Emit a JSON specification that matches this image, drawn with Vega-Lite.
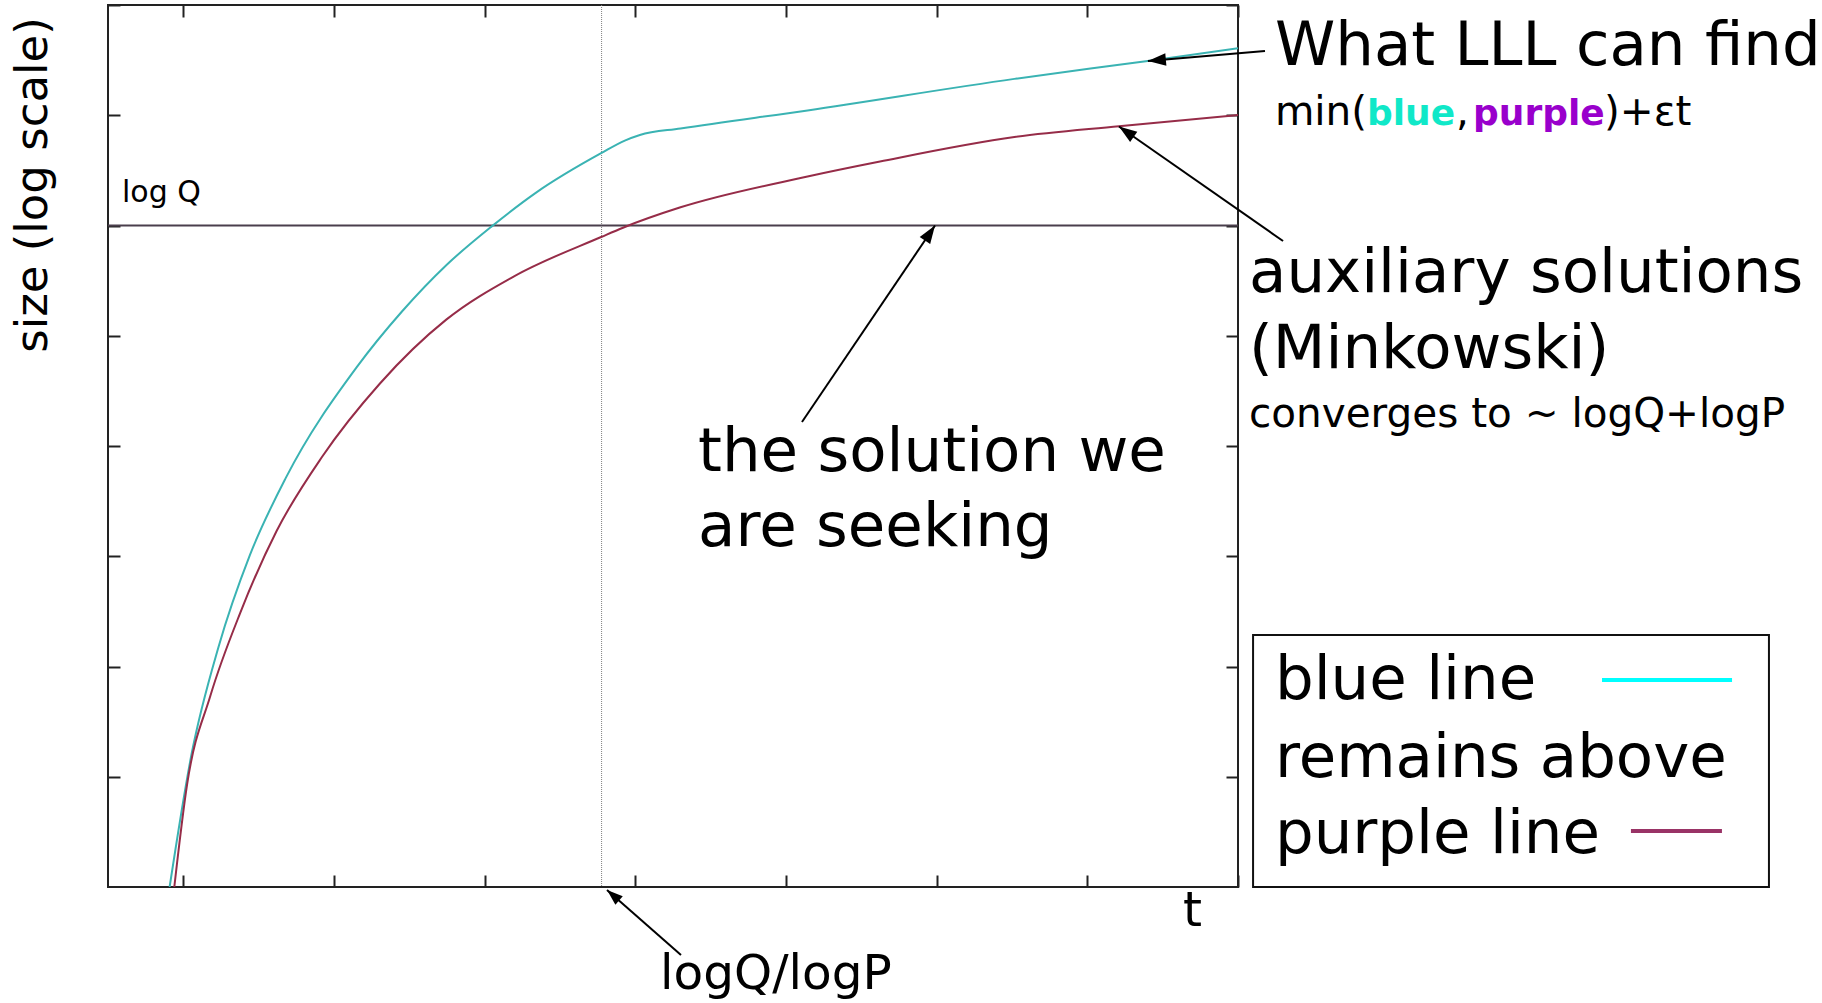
{
  "$schema": "https://vega.github.io/schema/vega-lite/v6.json",
  "width": 1130,
  "height": 882,
  "autosize": {"type": "none"},
  "padding": {"left": 108, "top": 5, "right": 584, "bottom": 116},
  "background": "white",
  "config": {
    "view": {"stroke": "#222222", "strokeWidth": 2},
    "text": {"font": "DejaVu Sans"},
    "axis": {
      "labels": false,
      "domain": false,
      "grid": false,
      "title": null,
      "ticks": true,
      "tickSize": -12,
      "tickWidth": 2,
      "tickColor": "#222222"
    }
  },
  "datasets": {
    "curves": [
      {"series": "blue", "t": 0.909, "size": 0.0},
      {"series": "blue", "t": 1.056, "size": 1.215},
      {"series": "blue", "t": 1.233, "size": 2.175},
      {"series": "blue", "t": 1.441, "size": 3.008},
      {"series": "blue", "t": 1.681, "size": 3.713},
      {"series": "blue", "t": 2.151, "size": 4.715},
      {"series": "blue", "t": 2.451, "size": 5.22},
      {"series": "blue", "t": 2.745, "size": 5.64},
      {"series": "blue", "t": 3.045, "size": 5.99},
      {"series": "blue", "t": 3.339, "size": 6.296},
      {"series": "blue", "t": 3.776, "size": 6.658},
      {"series": "blue", "t": 3.93, "size": 6.77},
      {"series": "blue", "t": 4.03, "size": 6.821},
      {"series": "blue", "t": 4.3, "size": 6.88},
      {"series": "blue", "t": 5.143, "size": 7.044},
      {"series": "blue", "t": 6.516, "size": 7.33},
      {"series": "blue", "t": 7.426, "size": 7.497},
      {"series": "blue", "t": 8.0, "size": 7.607},
      {"series": "purple", "t": 0.94, "size": 0.0},
      {"series": "purple", "t": 1.025, "size": 0.931},
      {"series": "purple", "t": 1.179, "size": 1.732},
      {"series": "purple", "t": 1.379, "size": 2.491},
      {"series": "purple", "t": 1.619, "size": 3.229},
      {"series": "purple", "t": 1.92, "size": 3.9},
      {"series": "purple", "t": 2.305, "size": 4.567},
      {"series": "purple", "t": 2.745, "size": 5.146},
      {"series": "purple", "t": 3.192, "size": 5.537},
      {"series": "purple", "t": 3.777, "size": 5.898},
      {"series": "purple", "t": 3.918, "size": 5.98},
      {"series": "purple", "t": 4.3, "size": 6.165},
      {"series": "purple", "t": 5.143, "size": 6.444},
      {"series": "purple", "t": 5.624, "size": 6.58},
      {"series": "purple", "t": 6.516, "size": 6.802},
      {"series": "purple", "t": 7.21, "size": 6.9},
      {"series": "purple", "t": 8.0, "size": 7.002}
    ],
    "levels": [{"name": "log Q", "size": 6}],
    "crossover": [{"name": "logQ/logP", "t": 3.776}],
    "arrows": [
      {"note": "What LLL can find", "t0": 8.179, "s0": 7.583, "t1": 7.402, "s1": 7.492},
      {"note": "auxiliary solutions", "t0": 8.299, "s0": 5.859, "t1": 7.21, "s1": 6.898},
      {"note": "the solution we are seeking", "t0": 5.106, "s0": 4.218, "t1": 5.989, "s1": 6.0},
      {"note": "logQ/logP", "t0": 4.303, "s0": -0.617, "t1": 3.812, "s1": -0.027}
    ],
    "bigNotes": [
      {"text": "What LLL can find", "t": 8.245, "s": 7.456},
      {"text": "auxiliary solutions", "t": 8.073, "s": 5.397},
      {"text": "(Minkowski)", "t": 8.073, "s": 4.707},
      {"text": "the solution we", "t": 4.416, "s": 3.773},
      {"text": "are seeking", "t": 4.416, "s": 3.093},
      {"text": "blue line", "t": 8.245, "s": 1.701},
      {"text": "remains above", "t": 8.245, "s": 0.999},
      {"text": "purple line", "t": 8.245, "s": 0.306}
    ],
    "smallNotes": [
      {"text": "min(", "t": 8.245, "s": 6.912},
      {"text": ",", "t": 9.447, "s": 6.912},
      {"text": ")+εt", "t": 10.429, "s": 6.912},
      {"text": "converges to ~ logQ+logP", "t": 8.073, "s": 4.172}
    ],
    "boldWords": [
      {"text": "blue", "word": "blue", "t": 8.856, "s": 6.912},
      {"text": "purple", "word": "purple", "t": 9.56, "s": 6.912}
    ],
    "axisNotes": [
      {"text": "logQ/logP", "t": 4.164, "s": -0.922},
      {"text": "t", "t": 7.635, "s": -0.354}
    ],
    "levelNote": [{"text": "log Q", "t": 0.593, "s": 6.213}],
    "sizeTitle": [{"text": "size (log scale)", "t": 0.002, "s": 6.367}],
    "keyBox": [{"t0": 8.1, "t1": 11.524, "s0": 0, "s1": 2.286}],
    "keyLines": [
      {"series": "blue", "t0": 10.416, "t1": 11.279, "s": 1.878},
      {"series": "purple", "t0": 10.608, "t1": 11.212, "s": 0.508}
    ]
  },
  "resolve": {
    "axis": {"x": "independent", "y": "independent"},
    "scale": {"color": "independent"}
  },
  "layer": [
    {
      "data": {"name": "crossover"},
      "mark": {"type": "rule", "color": "#808080", "strokeWidth": 1, "strokeDash": [1, 1]},
      "encoding": {
        "x": {"field": "t", "type": "quantitative", "scale": {"domain": [0.5, 8], "nice": false, "zero": false},
              "axis": {"orient": "top", "values": [1, 2, 3, 4, 5, 6, 7, 8]}}
      }
    },
    {
      "data": {"name": "levels"},
      "mark": {"type": "rule", "color": "#4a3f4c", "strokeWidth": 2},
      "encoding": {
        "y": {"field": "size", "type": "quantitative", "scale": {"domain": [0, 8], "nice": false, "zero": false},
              "axis": {"orient": "right", "values": [1, 2, 3, 4, 5, 6, 7, 8]}}
      }
    },
    {
      "data": {"name": "curves"},
      "mark": {"type": "line", "strokeWidth": 2, "interpolate": "monotone", "clip": true},
      "encoding": {
        "x": {"field": "t", "type": "quantitative", "axis": {"orient": "bottom", "values": [1, 2, 3, 4, 5, 6, 7, 8]}},
        "y": {"field": "size", "type": "quantitative", "axis": {"orient": "left", "values": [1, 2, 3, 4, 5, 6, 7, 8]}},
        "color": {"field": "series", "type": "nominal", "legend": null,
                  "scale": {"domain": ["blue", "purple"], "range": ["#3ab3b3", "#962c48"]}},
        "order": {"field": "t", "type": "quantitative"}
      }
    },
    {
      "data": {"name": "keyBox"},
      "mark": {"type": "rect", "fill": "white", "stroke": "#111111", "strokeWidth": 2},
      "encoding": {
        "x": {"field": "t0", "type": "quantitative", "axis": null},
        "x2": {"field": "t1"},
        "y": {"field": "s0", "type": "quantitative", "axis": null},
        "y2": {"field": "s1"}
      }
    },
    {
      "data": {"name": "keyLines"},
      "mark": {"type": "rule", "strokeWidth": 4},
      "encoding": {
        "x": {"field": "t0", "type": "quantitative", "axis": null},
        "x2": {"field": "t1"},
        "y": {"field": "s", "type": "quantitative", "axis": null},
        "color": {"field": "series", "type": "nominal", "legend": null,
                  "scale": {"domain": ["blue", "purple"], "range": ["#00ffff", "#993366"]}}
      }
    },
    {
      "data": {"name": "arrows"},
      "mark": {"type": "rule", "color": "black", "strokeWidth": 2},
      "encoding": {
        "x": {"field": "t0", "type": "quantitative", "axis": null},
        "y": {"field": "s0", "type": "quantitative", "axis": null},
        "x2": {"field": "t1"},
        "y2": {"field": "s1"}
      }
    },
    {
      "data": {"name": "arrows"},
      "transform": [{"filter": "datum.note === 'What LLL can find'"}],
      "mark": {"type": "point", "shape": "M0,0L-0.7,2L0.7,2Z", "size": 324, "filled": true, "color": "black", "opacity": 1, "angle": 265},
      "encoding": {
        "x": {"field": "t1", "type": "quantitative", "axis": null},
        "y": {"field": "s1", "type": "quantitative", "axis": null}
      }
    },
    {
      "data": {"name": "arrows"},
      "transform": [{"filter": "datum.note === 'auxiliary solutions'"}],
      "mark": {"type": "point", "shape": "M0,0L-0.7,2L0.7,2Z", "size": 324, "filled": true, "color": "black", "opacity": 1, "angle": 305},
      "encoding": {
        "x": {"field": "t1", "type": "quantitative", "axis": null},
        "y": {"field": "s1", "type": "quantitative", "axis": null}
      }
    },
    {
      "data": {"name": "arrows"},
      "transform": [{"filter": "datum.note === 'the solution we are seeking'"}],
      "mark": {"type": "point", "shape": "M0,0L-0.7,2L0.7,2Z", "size": 324, "filled": true, "color": "black", "opacity": 1, "angle": 34},
      "encoding": {
        "x": {"field": "t1", "type": "quantitative", "axis": null},
        "y": {"field": "s1", "type": "quantitative", "axis": null}
      }
    },
    {
      "data": {"name": "arrows"},
      "transform": [{"filter": "datum.note === 'logQ/logP'"}],
      "mark": {"type": "point", "shape": "M0,0L-0.7,2L0.7,2Z", "size": 256, "filled": true, "color": "black", "opacity": 1, "angle": 311},
      "encoding": {
        "x": {"field": "t1", "type": "quantitative", "axis": null},
        "y": {"field": "s1", "type": "quantitative", "axis": null}
      }
    },
    {
      "data": {"name": "bigNotes"},
      "mark": {"type": "text", "fontSize": 61, "align": "left", "baseline": "alphabetic", "color": "black"},
      "encoding": {
        "x": {"field": "t", "type": "quantitative", "axis": null},
        "y": {"field": "s", "type": "quantitative", "axis": null},
        "text": {"field": "text"}
      }
    },
    {
      "data": {"name": "smallNotes"},
      "mark": {"type": "text", "fontSize": 40.5, "align": "left", "baseline": "alphabetic", "color": "black"},
      "encoding": {
        "x": {"field": "t", "type": "quantitative", "axis": null},
        "y": {"field": "s", "type": "quantitative", "axis": null},
        "text": {"field": "text"}
      }
    },
    {
      "data": {"name": "boldWords"},
      "mark": {"type": "text", "fontSize": 36, "fontWeight": "bold", "align": "left", "baseline": "alphabetic"},
      "encoding": {
        "x": {"field": "t", "type": "quantitative", "axis": null},
        "y": {"field": "s", "type": "quantitative", "axis": null},
        "text": {"field": "text"},
        "color": {"field": "word", "type": "nominal", "legend": null,
                  "scale": {"domain": ["blue", "purple"], "range": ["#10e8c8", "#9900cc"]}}
      }
    },
    {
      "data": {"name": "axisNotes"},
      "mark": {"type": "text", "fontSize": 48.5, "align": "left", "baseline": "alphabetic", "color": "black"},
      "encoding": {
        "x": {"field": "t", "type": "quantitative", "axis": null},
        "y": {"field": "s", "type": "quantitative", "axis": null},
        "text": {"field": "text"}
      }
    },
    {
      "data": {"name": "levelNote"},
      "mark": {"type": "text", "fontSize": 30, "align": "left", "baseline": "alphabetic", "color": "black"},
      "encoding": {
        "x": {"field": "t", "type": "quantitative", "axis": null},
        "y": {"field": "s", "type": "quantitative", "axis": null},
        "text": {"field": "text"}
      }
    },
    {
      "data": {"name": "sizeTitle"},
      "mark": {"type": "text", "fontSize": 45, "angle": 270, "align": "center", "baseline": "middle", "color": "black"},
      "encoding": {
        "x": {"field": "t", "type": "quantitative", "axis": null},
        "y": {"field": "s", "type": "quantitative", "axis": null},
        "text": {"field": "text"}
      }
    }
  ]
}
